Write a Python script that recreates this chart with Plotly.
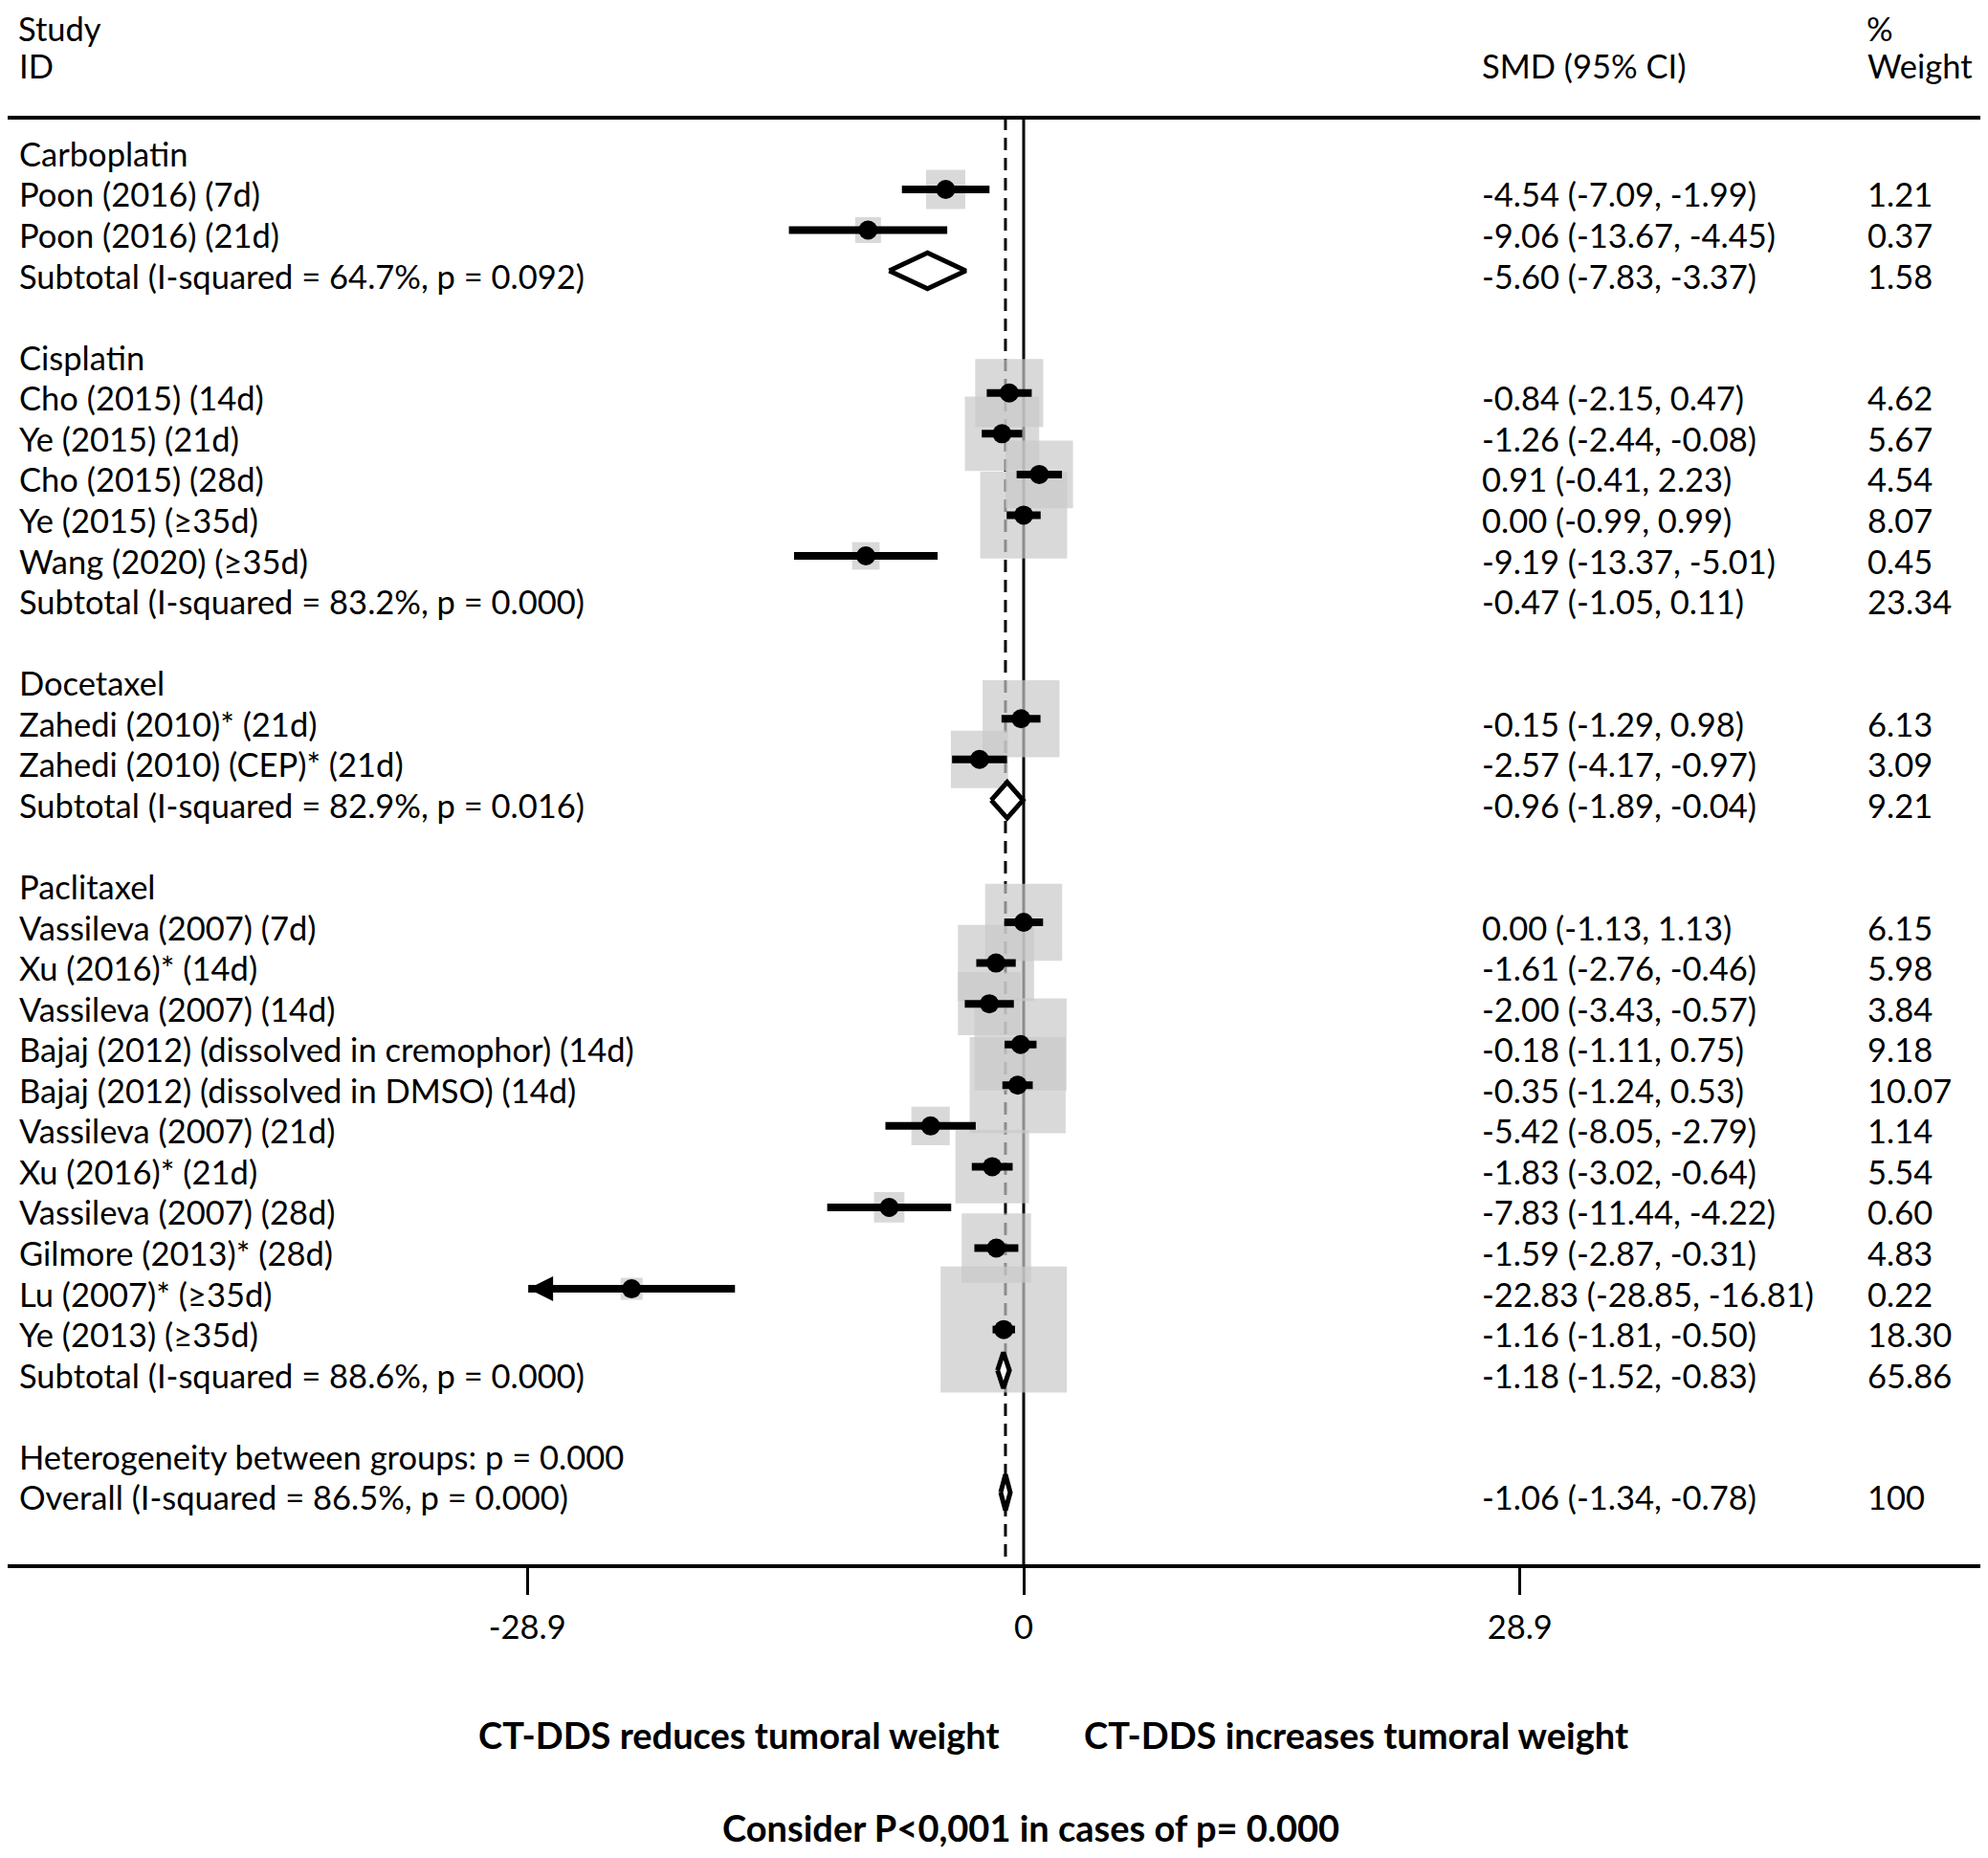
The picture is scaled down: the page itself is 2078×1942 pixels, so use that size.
import numpy as np
import plotly.graph_objects as go

#### data
group_names = ['Carboplatin', 'Cisplatin', 'Docetaxel', 'Paclitaxel']

study_group = ['Carboplatin', 'Carboplatin',
               'Cisplatin', 'Cisplatin', 'Cisplatin', 'Cisplatin', 'Cisplatin',
               'Docetaxel', 'Docetaxel',
               'Paclitaxel', 'Paclitaxel', 'Paclitaxel', 'Paclitaxel', 'Paclitaxel', 'Paclitaxel',
               'Paclitaxel', 'Paclitaxel', 'Paclitaxel', 'Paclitaxel', 'Paclitaxel']
study_label = ['Poon (2016) (7d)', 'Poon (2016) (21d)',
               'Cho (2015) (14d)', 'Ye (2015) (21d)', 'Cho (2015) (28d)', 'Ye (2015) (≥35d)', 'Wang (2020) (≥35d)',
               'Zahedi (2010)* (21d)', 'Zahedi (2010) (CEP)* (21d)',
               'Vassileva (2007) (7d)', 'Xu (2016)* (14d)', 'Vassileva (2007) (14d)',
               'Bajaj (2012) (dissolved in cremophor) (14d)', 'Bajaj (2012) (dissolved in DMSO) (14d)',
               'Vassileva (2007) (21d)', 'Xu (2016)* (21d)', 'Vassileva (2007) (28d)',
               'Gilmore (2013)* (28d)', 'Lu (2007)* (≥35d)', 'Ye (2013) (≥35d)']
study_smd = [-4.54, -9.06,
             -0.84, -1.26, 0.91, 0.00, -9.19,
             -0.15, -2.57,
             0.00, -1.61, -2.00, -0.18, -0.35, -5.42, -1.83, -7.83, -1.59, -22.83, -1.16]
study_lo = [-7.09, -13.67,
            -2.15, -2.44, -0.41, -0.99, -13.37,
            -1.29, -4.17,
            -1.13, -2.76, -3.43, -1.11, -1.24, -8.05, -3.02, -11.44, -2.87, -28.85, -1.81]
study_hi = [-1.99, -4.45,
            0.47, -0.08, 2.23, 0.99, -5.01,
            0.98, -0.97,
            1.13, -0.46, -0.57, 0.75, 0.53, -2.79, -0.64, -4.22, -0.31, -16.81, -0.50]
study_weight = [1.21, 0.37,
                4.62, 5.67, 4.54, 8.07, 0.45,
                6.13, 3.09,
                6.15, 5.98, 3.84, 9.18, 10.07, 1.14, 5.54, 0.60, 4.83, 0.22, 18.30]

subtotal_label = ['Subtotal (I-squared = 64.7%, p = 0.092)', 'Subtotal (I-squared = 83.2%, p = 0.000)',
                  'Subtotal (I-squared = 82.9%, p = 0.016)', 'Subtotal (I-squared = 88.6%, p = 0.000)']
subtotal_smd = [-5.60, -0.47, -0.96, -1.18]
subtotal_lo = [-7.83, -1.05, -1.89, -1.52]
subtotal_hi = [-3.37, 0.11, -0.04, -0.83]
subtotal_weight = [1.58, 23.34, 9.21, 65.86]
subtotal_diamond = [True, False, True, True]   # no diamond visible for cisplatin

het_label = 'Heterogeneity between groups: p = 0.000'
overall_label = 'Overall (I-squared = 86.5%, p = 0.000)'
overall_smd, overall_lo, overall_hi, overall_weight = -1.06, -1.34, -0.78, 100

x_ticks = [-28.9, 0, 28.9]
x_ticktext = ['-28.9', '0', '28.9']

#### layout config (screen pixels, page has an 8px body margin)
W, H = 2078, 1942
OFF = 8
FIG_W, FIG_H = W - 2 * OFF, H - 2 * OFF
ZERO_PX, PX_UNIT = 1070, 17.95
ROW0_PX, ROW_PX = 155.4, 42.56
AXIS_PX = 1637
PLOT_BOTTOM = AXIS_PX - 2
TOP_PX = 123
FONT = 'Lato'
FS = 34.5
FS_BOLD = 38
GREY = '#c9c9c9'


def px_row(p):
    return (p - ROW0_PX) / ROW_PX


def px_paper_x(p):
    return (p - OFF) / FIG_W


def px_paper_y(p):
    return 1 - (p - OFF) / FIG_H


#### rows
rows = []   # (row, label, kind, smd, lo, hi, weight, diamond)
r = 0
for g, gname in enumerate(group_names):
    rows.append((r, gname, 'head', None, None, None, None, False))
    r += 1
    for i in range(len(study_label)):
        if study_group[i] == gname:
            rows.append((r, study_label[i], 'study', study_smd[i], study_lo[i], study_hi[i], study_weight[i], False))
            r += 1
    rows.append((r, subtotal_label[g], 'sub', subtotal_smd[g], subtotal_lo[g], subtotal_hi[g], subtotal_weight[g], subtotal_diamond[g]))
    r += 2
rows.append((r, het_label, 'head', None, None, None, None, False))
r += 1
rows.append((r, overall_label, 'sub', overall_smd, overall_lo, overall_hi, overall_weight, True))

studies = [x for x in rows if x[2] == 'study']

fig = go.Figure()

#### boxes
fig.add_trace(go.Scatter(
    x=[s[3] for s in studies], y=[s[0] for s in studies],
    mode='markers',
    marker=dict(symbol='square', color=GREY, line_width=0,
                size=[9.6 + 28.6 * np.sqrt(s[6]) for s in studies]),
    hoverinfo='skip', showlegend=False))

#### CI lines
ci_x, ci_y = [], []
for s in studies:
    ci_x += [s[4], s[5], None]
    ci_y += [s[0], s[0], None]
fig.add_trace(go.Scatter(x=ci_x, y=ci_y, mode='lines', line=dict(color='black', width=8),
                         hoverinfo='skip', showlegend=False))

#### point estimates
fig.add_trace(go.Scatter(
    x=[s[3] for s in studies], y=[s[0] for s in studies],
    mode='markers', marker=dict(symbol='circle', color='black', size=20, line_width=0),
    hoverinfo='skip', showlegend=False))

#### diamonds
dh = 0.44
for s in rows:
    if s[2] == 'sub' and s[7]:
        fig.add_trace(go.Scatter(
            x=[s[4], s[3], s[5], s[3], s[4]],
            y=[s[0], s[0] - dh, s[0], s[0] + dh, s[0]],
            mode='lines', fill='toself', fillcolor='white',
            line=dict(color='black', width=5),
            hoverinfo='skip', showlegend=False))

#### arrows for CI reaching the axis limit
for s in studies:
    if s[4] <= -x_ticks[-1] * 0.99:
        fig.add_annotation(x=s[4], y=s[0], ax=s[4] + 3, ay=s[0], xref='x', yref='y', axref='x', ayref='y',
                           text='', showarrow=True, arrowhead=2, arrowsize=0.65, arrowwidth=8, arrowcolor='black')

#### reference lines
fig.add_shape(type='line', xref='paper', yref='y', x0=0, x1=1, y0=px_row(TOP_PX), y1=px_row(TOP_PX),
              line=dict(color='black', width=4))
fig.add_shape(type='line', xref='x', yref='y', x0=0, x1=0, y0=px_row(TOP_PX), y1=px_row(PLOT_BOTTOM),
              line=dict(color='black', width=3), layer='below')
fig.add_shape(type='line', xref='x', yref='y', x0=overall_smd, x1=overall_smd, y0=px_row(TOP_PX), y1=px_row(1630),
              line=dict(color='black', width=3, dash='13px,8px'), layer='below')

#### text columns
tfont = dict(family=FONT, size=FS, color='black')
X_LABEL, X_SMD, X_WEIGHT = 18, 1547, 1950
for s in rows:
    fig.add_annotation(x=px_paper_x(X_LABEL), y=s[0], xref='paper', yref='y', text=s[1], showarrow=False,
                       xanchor='left', yanchor='middle', yshift=-5, font=tfont)
    if s[3] is not None:
        fig.add_annotation(x=px_paper_x(X_SMD), y=s[0], xref='paper', yref='y',
                           text=f"{s[3]:.2f} ({s[4]:.2f}, {s[5]:.2f})", showarrow=False,
                           xanchor='left', yanchor='middle', yshift=-5, font=tfont)
        wtxt = '100' if s[6] == 100 else f"{s[6]:.2f}"
        fig.add_annotation(x=px_paper_x(X_WEIGHT), y=s[0], xref='paper', yref='y', text=wtxt, showarrow=False,
                           xanchor='left', yanchor='middle', yshift=-5, font=tfont)

#### header
for txt, xp in [('Study', X_LABEL), ('%', X_WEIGHT)]:
    fig.add_annotation(x=px_paper_x(xp), y=1, xref='paper', yref='paper', text=txt, showarrow=False,
                       xanchor='left', yanchor='top', borderpad=0, font=tfont)
for txt, xp in [('ID', X_LABEL), ('SMD (95% CI)', X_SMD), ('Weight', X_WEIGHT)]:
    fig.add_annotation(x=px_paper_x(xp), y=-2.15, xref='paper', yref='y', text=txt, showarrow=False,
                       xanchor='left', yanchor='middle', yshift=-5, font=tfont)

#### bottom texts
bfont = dict(family=FONT, size=FS_BOLD, color='black', weight='bold')
fig.add_annotation(x=px_paper_x(1047), y=px_paper_y(1813), xref='paper', yref='paper',
                   text='CT-DDS reduces tumoral weight', showarrow=False, xanchor='right', yanchor='middle', font=bfont)
fig.add_annotation(x=px_paper_x(1131), y=px_paper_y(1813), xref='paper', yref='paper',
                   text='CT-DDS increases tumoral weight', showarrow=False, xanchor='left', yanchor='middle', font=bfont)
fig.add_annotation(x=px_paper_x(1077), y=0, xref='paper', yref='paper',
                   text='Consider P<0,001 in cases of p= 0.000', showarrow=False, xanchor='center', yanchor='bottom',
                   borderpad=0, font=bfont)

fig.update_xaxes(
    range=[-(ZERO_PX - OFF) / PX_UNIT, (FIG_W - (ZERO_PX - OFF)) / PX_UNIT],
    domain=[0, 1],
    showgrid=False, zeroline=False,
    showline=True, linecolor='black', linewidth=4,
    ticks='outside', ticklen=28, tickwidth=3, tickcolor='black',
    tickvals=x_ticks, ticktext=x_ticktext,
    tickfont=dict(family=FONT, size=FS, color='black'),
    ticklabelstandoff=5,
)
fig.update_yaxes(
    range=[px_row(PLOT_BOTTOM), px_row(OFF)],
    domain=[px_paper_y(PLOT_BOTTOM), 1],
    visible=False,
)
fig.update_layout(
    width=FIG_W, height=FIG_H,
    margin=dict(l=0, r=0, t=0, b=0),
    plot_bgcolor='white', paper_bgcolor='white',
    showlegend=False,
)

fig.write_html("out.html")
